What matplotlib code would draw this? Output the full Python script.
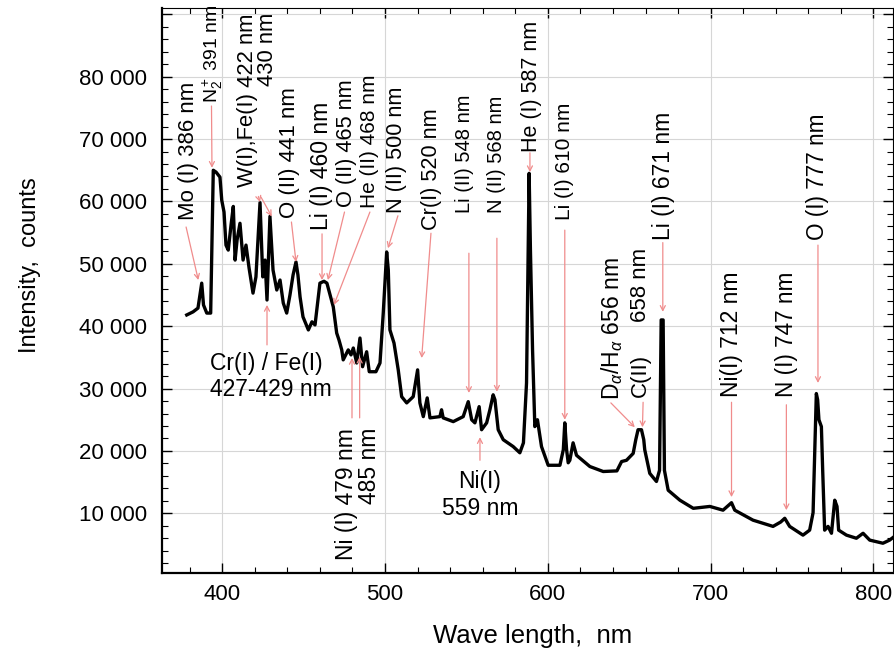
import matplotlib.pyplot as plt
from matplotlib.ticker import MultipleLocator, FuncFormatter

plt.rcParams['font.family'] = ['Liberation Sans', 'DejaVu Sans']
plt.rcParams['mathtext.fontset'] = 'custom'
plt.rcParams['mathtext.rm'] = 'Liberation Sans'
plt.rcParams['mathtext.it'] = 'Liberation Sans:italic'

# emission spectrum, wavelength in nm and intensity in counts
wavelength = [
    378.2, 382.1, 385.1, 387.4, 388.5, 390.5, 392.9, 394.5, 396.2, 398.6,
    399.7, 401.1, 402.3, 403.7, 405.4, 406.8, 407.9, 409.1, 410.9, 412.8,
    414.6, 416.5, 418.9, 420.7, 423.2, 424.9, 426.3, 427.5, 429.3, 431.2,
    433.5, 435.5, 437.5, 439.6, 441.6, 443.5, 445.3, 446.5, 447.8, 449.6,
    452.9, 455.1, 457.0, 458.8, 460.0, 462.5, 464.3, 468.2, 470.3, 471.7,
    473.4, 474.3, 477.4, 479.1, 480.5, 482.6, 484.6, 486.2, 488.7, 490.3,
    494.4, 496.9, 498.9, 501.0, 502.0, 503.0, 505.5, 508.1, 510.2, 513.3,
    517.3, 520.0, 521.4, 523.5, 525.9, 527.6, 533.7, 534.7, 535.7, 541.9,
    548.0, 551.1, 553.2, 555.2, 557.8, 559.3, 562.4, 564.4, 566.4, 567.5,
    569.5, 572.6, 578.7, 582.8, 585.0, 586.9, 587.9, 588.5, 589.3, 590.6,
    592.0, 593.6, 596.1, 600.2, 607.4, 609.5, 610.4, 611.5, 612.5, 613.5,
    615.5, 617.6, 625.8, 634.0, 642.4, 645.3, 648.3, 652.4, 654.0, 655.4,
    657.5, 658.9, 659.5, 662.6, 666.7, 668.6, 669.6, 670.8, 671.6, 673.9,
    681.1, 689.3, 699.5, 707.6, 712.8, 714.8, 726.0, 732.2, 738.3, 743.0,
    745.5, 748.5, 756.7, 760.8, 762.9, 764.9, 765.7, 766.5, 768.0, 768.8,
    770.0, 772.1, 774.2, 776.2, 777.6, 778.6, 783.4, 789.5, 793.6, 797.7,
    805.8, 809.9, 812.4,
]
intensity = [
    41800, 42300, 42900, 46900, 43400, 42100, 42100, 65000, 64700, 63900,
    60200, 58300, 53000, 52200, 56200, 59200, 50600, 53800, 56500, 50600,
    53000, 49300, 45300, 47900, 59800, 47900, 50600, 44200, 57600, 49000,
    45800, 47400, 43700, 42100, 45000, 48200, 50300, 48200, 44700, 41500,
    39400, 40700, 40200, 44200, 46900, 47200, 46900, 43100, 38900, 37800,
    36200, 34600, 36200, 35400, 36500, 34100, 38100, 33500, 35900, 32700,
    32700, 34100, 42100, 51900, 49000, 39400, 37300, 33000, 28700, 27700,
    28700, 33000, 27700, 25500, 28500, 25300, 25500, 26600, 25300, 24700,
    25500, 27900, 25000, 24500, 27100, 23400, 24500, 26600, 29000, 28200,
    23400, 21800, 20700, 19700, 21300, 30900, 52200, 64500, 52200, 36200,
    23900, 25000, 20700, 17700, 17700, 20200, 24500, 20200, 18100, 18500,
    21300, 19300, 17500, 16700, 16800, 18300, 18500, 19600, 21800, 23400,
    23400, 21800, 20200, 16400, 15100, 16900, 41000, 41000, 16900, 13700,
    12100, 10800, 11100, 10500, 11700, 10500, 8900, 8400, 7900, 8600,
    9200, 7900, 6500, 7300, 10100, 29200, 28200, 25000, 23900, 16900,
    7300, 7900, 6800, 12100, 11100, 7300, 6500, 6000, 6800, 5700,
    5200, 5700, 6200,
]

# line identifications: text, font size, text anchor, arrow start, arrow tip
lines_up = [
    ('Mo (I) 386 nm', 16, (379.0, 57000), (377.8, 55900), (385.3, 47400)),
    (r'N$_2^+$ 391 nm', 14, (394.5, 75800), (393.4, 75300), (393.7, 65400)),
    ('O (II) 441 nm', 16, (441.6, 57300), (442.5, 56700), (445.3, 50300)),
    ('Li (I) 460 nm', 16.5, (461.1, 55400), (461.3, 54800), (461.3, 47400)),
    ('O (II) 465 nm', 15.7, (476.4, 59100), (475.1, 58300), (464.9, 47400)),
    ('He (II) 468 nm', 15, (490.7, 59000), (490.7, 58300), (468.6, 43400)),
    ('N (II) 500 nm', 15.6, (507.1, 58200), (507.9, 57700), (501.8, 52500)),
    ('Cr(I) 520 nm', 15.6, (528.6, 55400), (528.2, 54900), (522.5, 34900)),
    ('Li (II) 548 nm', 14.5, (549.0, 58200), (551.5, 51700), (551.5, 29300)),
    ('N (II) 568 nm', 14.5, (568.5, 58200), (568.7, 54100), (568.7, 29500)),
    ('He (I) 587 nm', 15.5, (590.0, 67900), (589.0, 67800), (589.0, 64700)),
    ('Li (I) 610 nm', 15, (610.4, 57000), (610.4, 55400), (610.4, 25000)),
    (r'D$_\alpha$/H$_\alpha$ 656 nm', 16.5, (639.3, 28200), (638.7, 27700), (653.4, 23800)),
    ('C(II)', 16, (657.1, 28700), (658.5, 27800), (658.1, 23800)),
    ('Li (I) 671 nm', 16.5, (671.2, 53800), (670.6, 53400), (670.6, 42300)),
    ('Ni(I) 712 nm', 16.5, (712.8, 28700), (712.8, 27800), (712.8, 12600)),
    ('N (I) 747 nm', 16.3, (746.5, 28700), (746.5, 27400), (746.5, 10500)),
    ('O (I) 777 nm', 16.3, (765.9, 53800), (765.9, 53000), (765.9, 30900)),
]
# rotated labels hanging from their top end
lines_down = [
    ('W(I),Fe(I) 422 nm', 15.8, (415.6, 90200)),
    ('430 nm', 15.8, (427.6, 90200)),
    ('658 nm', 16, (657.1, 52500)),
    ('Ni (I) 479 nm', 16.5, (476.4, 23700)),
    ('485 nm', 16.5, (490.7, 23700)),
]
extra_arrows = [
    ((422.2, 60800), (423.2, 59900)),
    ((423.8, 60700), (430.4, 57600)),
    ((427.5, 37000), (427.5, 43400)),
    ((479.7, 25300), (479.7, 34900)),
    ((484.4, 25300), (484.4, 35100)),
    ((558.3, 18500), (558.3, 22200)),
]

red = '#f08c8c'
arrow = dict(arrowstyle='->,head_length=0.35,head_width=0.18', color=red, lw=0.9,
             shrinkA=0, shrinkB=0)

fig = plt.figure(figsize=(8.94, 6.51), dpi=100)
ax = fig.add_axes([0.1812, 0.1194, 0.8177, 0.8679])

ax.plot(wavelength, intensity, color='black', lw=2.4)

for text, size, pos, start, tip in lines_up:
    ax.text(pos[0], pos[1], text, rotation=90, ha='center', va='bottom', fontsize=size)
    ax.annotate('', xy=tip, xytext=start, arrowprops=arrow)
for text, size, pos in lines_down:
    ax.text(pos[0], pos[1], text, rotation=90, ha='center', va='top', fontsize=size)
for start, tip in extra_arrows:
    ax.annotate('', xy=tip, xytext=start, arrowprops=arrow)

ax.text(392.5, 35900, 'Cr(I) / Fe(I)\n427-429 nm', ha='left', va='top',
        fontsize=16.5, linespacing=1.2)
ax.text(558.2, 16900, 'Ni(I)\n559 nm', ha='center', va='top', multialignment='center',
        fontsize=16.5, linespacing=1.2)

ax.set_xlim(363, 812)
ax.set_ylim(385, 90970)

ax.xaxis.set_major_locator(MultipleLocator(100))
ax.xaxis.set_minor_locator(MultipleLocator(20))
ax.yaxis.set_major_locator(MultipleLocator(10000))
ax.yaxis.set_minor_locator(MultipleLocator(2000))


def thousands(v, pos):
    if 10000 <= v <= 80000:
        return f'{int(round(v)):,}'.replace(',', ' ')
    return ''


ax.yaxis.set_major_formatter(FuncFormatter(thousands))
ax.tick_params(which='both', direction='in', top=True, right=True, labelsize=16)
ax.tick_params(which='major', length=7, width=1)
ax.tick_params(which='minor', length=4, width=0.8)
ax.tick_params(axis='y', pad=11)
ax.tick_params(axis='x', pad=8)

ax.grid(True, which='major', color='#d6d6d6', lw=0.8)
ax.set_axisbelow(True)
for side in ['left', 'bottom']:
    ax.spines[side].set_linewidth(1.6)
for side in ['top', 'right']:
    ax.spines[side].set_linewidth(0.8)

ax.set_xlabel('Wave length,  nm', fontsize=18.5, va='center')
ax.set_ylabel('Intensity,  counts', fontsize=17, va='center')
ax.xaxis.set_label_coords(0.507, -0.111)
ax.yaxis.set_label_coords(-0.181, 0.546)

fig.savefig('out.png', dpi=100)
